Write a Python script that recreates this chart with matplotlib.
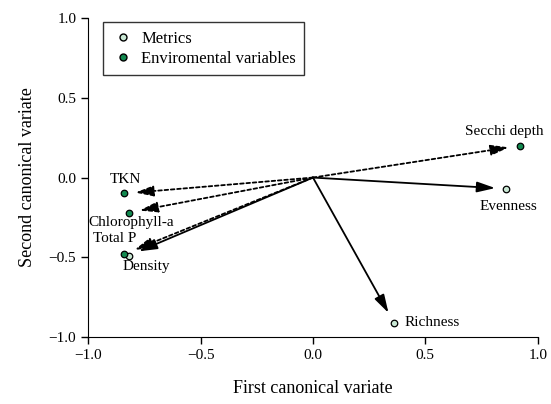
import matplotlib.pyplot as plt
from matplotlib.lines import Line2D

plt.rcParams['font.family'] = ['Liberation Serif', 'DejaVu Serif']

# metrics
met_names = ['Evenness', 'Richness', 'Density']
met_x = [0.86, 0.36, -0.82]
met_y = [-0.07, -0.91, -0.49]

# environmental variables
env_names = ['Secchi depth', 'TKN', 'Chlorophyll-a', 'Total P']
env_x = [0.92, -0.84, -0.82, -0.84]
env_y = [0.20, -0.10, -0.22, -0.48]

met_col = '#c9e8d4'
env_col = '#12894f'

fig = plt.figure(figsize=(5.51, 4.04), dpi=100)
ax = fig.add_axes([0.16, 0.166, 0.816, 0.789])

head = '-|>,head_length=1.1,head_width=0.32'
for x, y in zip(env_x, env_y):
    ax.annotate('', xy=(x, y), xytext=(0, 0),
                arrowprops=dict(arrowstyle=head, color='black', lw=1.3,
                                linestyle=(0, (2, 1.5)), shrinkA=0, shrinkB=8))
for x, y in zip(met_x, met_y):
    ax.annotate('', xy=(x, y), xytext=(0, 0),
                arrowprops=dict(arrowstyle=head, color='black', lw=1.3,
                                shrinkA=0, shrinkB=8))

ax.scatter(met_x, met_y, s=22, c=met_col, edgecolors='black', linewidths=0.9, zorder=5)
ax.scatter(env_x, env_y, s=22, c=env_col, edgecolors='black', linewidths=0.9, zorder=5)

fs = 11
ax.text(0.85, 0.29, 'Secchi depth', ha='center', va='center', fontsize=fs)
ax.text(0.87, -0.18, 'Evenness', ha='center', va='center', fontsize=fs)
ax.text(0.53, -0.91, 'Richness', ha='center', va='center', fontsize=fs)
ax.text(-0.835, -0.01, 'TKN', ha='center', va='center', fontsize=fs)
ax.text(-0.81, -0.28, 'Chlorophyll-a', ha='center', va='center', fontsize=fs)
ax.text(-0.88, -0.38, 'Total P', ha='center', va='center', fontsize=fs)
ax.text(-0.74, -0.56, 'Density', ha='center', va='center', fontsize=fs)

ax.set_xlim(-1, 1)
ax.set_ylim(-1, 1)
ax.set_xticks([-1.0, -0.5, 0.0, 0.5, 1.0])
ax.set_yticks([-1.0, -0.5, 0.0, 0.5, 1.0])
ax.set_xticklabels(['\u22121.0', '\u22120.5', '0.0', '0.5', '1.0'])
ax.set_yticklabels(['\u22121.0', '\u22120.5', '0.0', '0.5', '1.0'])
ax.tick_params(labelsize=fs, direction='out', length=5, width=1)
ax.spines['top'].set_visible(False)
ax.spines['right'].set_visible(False)
ax.set_xlabel('First canonical variate', fontsize=13, labelpad=13)
ax.set_ylabel('Second canonical variate', fontsize=13, labelpad=9)

handles = [Line2D([], [], marker='o', ls='', ms=5, mfc=met_col, mec='black', label='Metrics'),
           Line2D([], [], marker='o', ls='', ms=5, mfc=env_col, mec='black', label='Enviromental variables')]
leg = ax.legend(handles=handles, loc='upper left', bbox_to_anchor=(0.033, 0.987),
                borderaxespad=0, fontsize=12, fancybox=False, edgecolor='black',
                handletextpad=0.4, borderpad=0.5, labelspacing=0.25, handlelength=1.4)
leg.get_frame().set_linewidth(1)

fig.savefig('out.png', dpi=100)
